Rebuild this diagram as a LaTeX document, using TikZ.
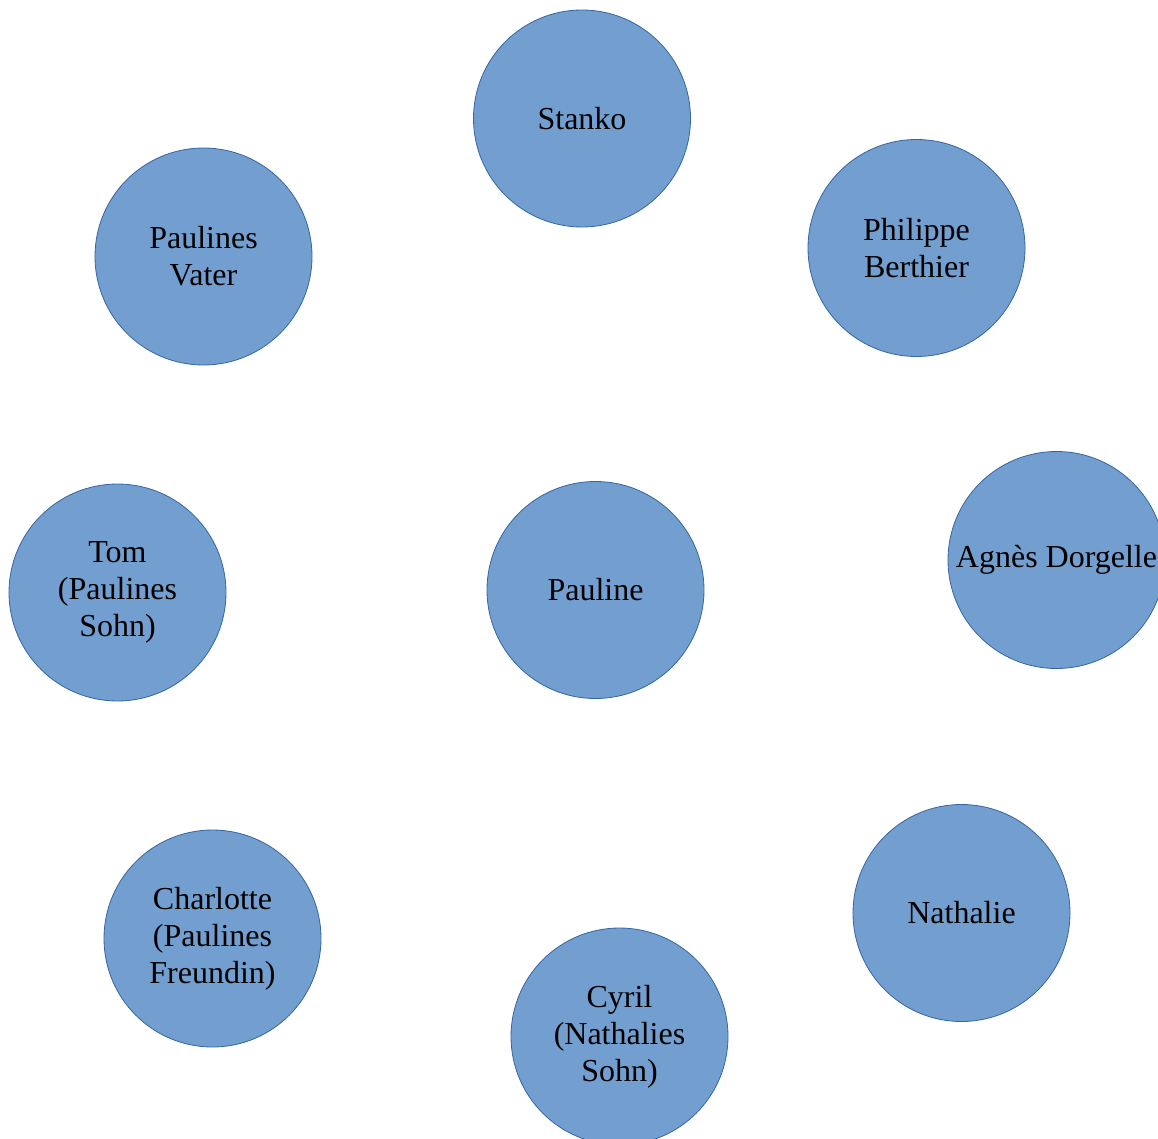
\documentclass[tikz,border=0pt]{standalone}
\usepackage{fontspec}
\setmainfont{Liberation Serif}
\definecolor{bubblefill}{HTML}{729FCF}
\definecolor{bubbledraw}{HTML}{3465A4}
\begin{document}
\begin{tikzpicture}[x=1pt,y=-1pt,
  person/.style={circle,draw=bubbledraw,fill=bubblefill,line width=0.8pt,
    minimum size=217pt,inner sep=0pt,align=center,
    font=\fontsize{32}{37}\selectfont}]
\useasboundingbox (0,0) rectangle (1158,1139);
\node[person] (stanko) at (582,118.5) {Stanko};
\node[person] (vater) at (203.5,256.5) {Paulines\\Vater};
\node[person] (philippe) at (916.5,248) {Philippe\\Berthier};
\node[person] (tom) at (117.5,592.5) {Tom\\(Paulines\\Sohn)};
\node[person] (pauline) at (595.5,590) {Pauline};
\node[person] (agnes) at (1056.5,560) {Agnès Dorgelle};
\node[person] (charlotte) at (212.5,938.5) {Charlotte\\(Paulines\\Freundin)};
\node[person] (cyril) at (619.5,1036.5) {Cyril\\(Nathalies\\Sohn)};
\node[person] (nathalie) at (961.5,913) {Nathalie};
\end{tikzpicture}
\end{document}
